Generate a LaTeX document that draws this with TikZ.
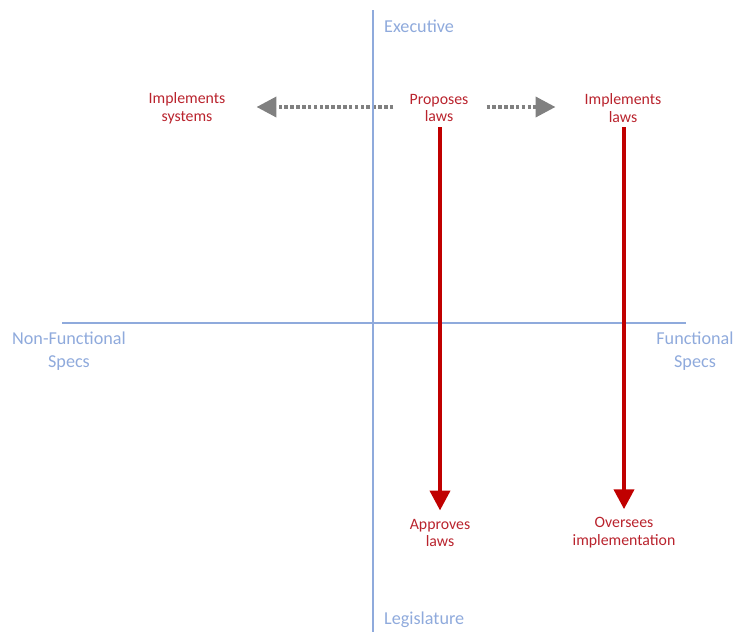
\documentclass[tikz,border=0pt]{standalone}
\usepackage{fontspec}
\setmainfont{Carlito}
\usetikzlibrary{arrows.meta, calc}
\definecolor{axisblue}{RGB}{143,170,220}
\definecolor{lawred}{RGB}{192,0,0}
\definecolor{textred}{RGB}{185,35,45}
\definecolor{dotgray}{RGB}{128,128,128}

\begin{document}
\begin{tikzpicture}[x=0.03cm, y=-0.03cm,
axis/.style={draw=axisblue, line width=2.2pt},
axislabel/.style={text=axisblue, font=\fontsize{15.5}{19.6}\selectfont, align=center, inner sep=0pt},
role/.style={text=textred, font=\fontsize{13.5}{15.3}\selectfont, align=center, inner sep=0pt},
bigarrow/.style={draw=lawred, line width=3.6pt, -{Triangle[width=17pt,length=17pt]}},
dotarrow/.style={draw=dotgray, line width=3.4pt, dash pattern=on 3pt off 2pt, -{Triangle[width=17pt,length=17pt]}}]

\useasboundingbox (0,0) rectangle (737,632);

% axis labels
\node[axislabel, anchor=west] (exec) at (384,26) {Executive};
\node[axislabel, anchor=west] (legis) at (384,620) {Legislature};
\node[axislabel] (nonfunc) at (69,351) {Non-Functional\\Specs};
\node[axislabel] (func) at (695,351) {Functional\\Specs};

% roles
\node[role] (sys) at (187,108) {Implements\\systems};
\node[role] (prop) at (439,108) {Proposes\\laws};
\node[role] (impl) at (623,108) {Implements\\laws};
\node[role] (appr) at (440,533) {Approves\\laws};
\node[role] (over) at (624,533) {Oversees\\implementation};

% dotted arrows
\draw[dotarrow] ($(prop.west)+(-16,-1)$) -- ($(sys.east)+(31,-1)$);
\draw[dotarrow] ($(prop.east)+(18,-1)$) -- ($(impl.west)+(-29,-1)$);

% axes
\draw[axis] (373,10) -- (373,632);
\draw[axis] (62,323) -- (686,323);

% red arrows
\draw[bigarrow, shorten <=4pt, shorten >=7pt] (prop.south -| appr.north) -- (appr.north);
\draw[bigarrow, shorten <=4pt, shorten >=7pt] (impl.south -| over.north) -- (over.north);

\end{tikzpicture}
\end{document}
